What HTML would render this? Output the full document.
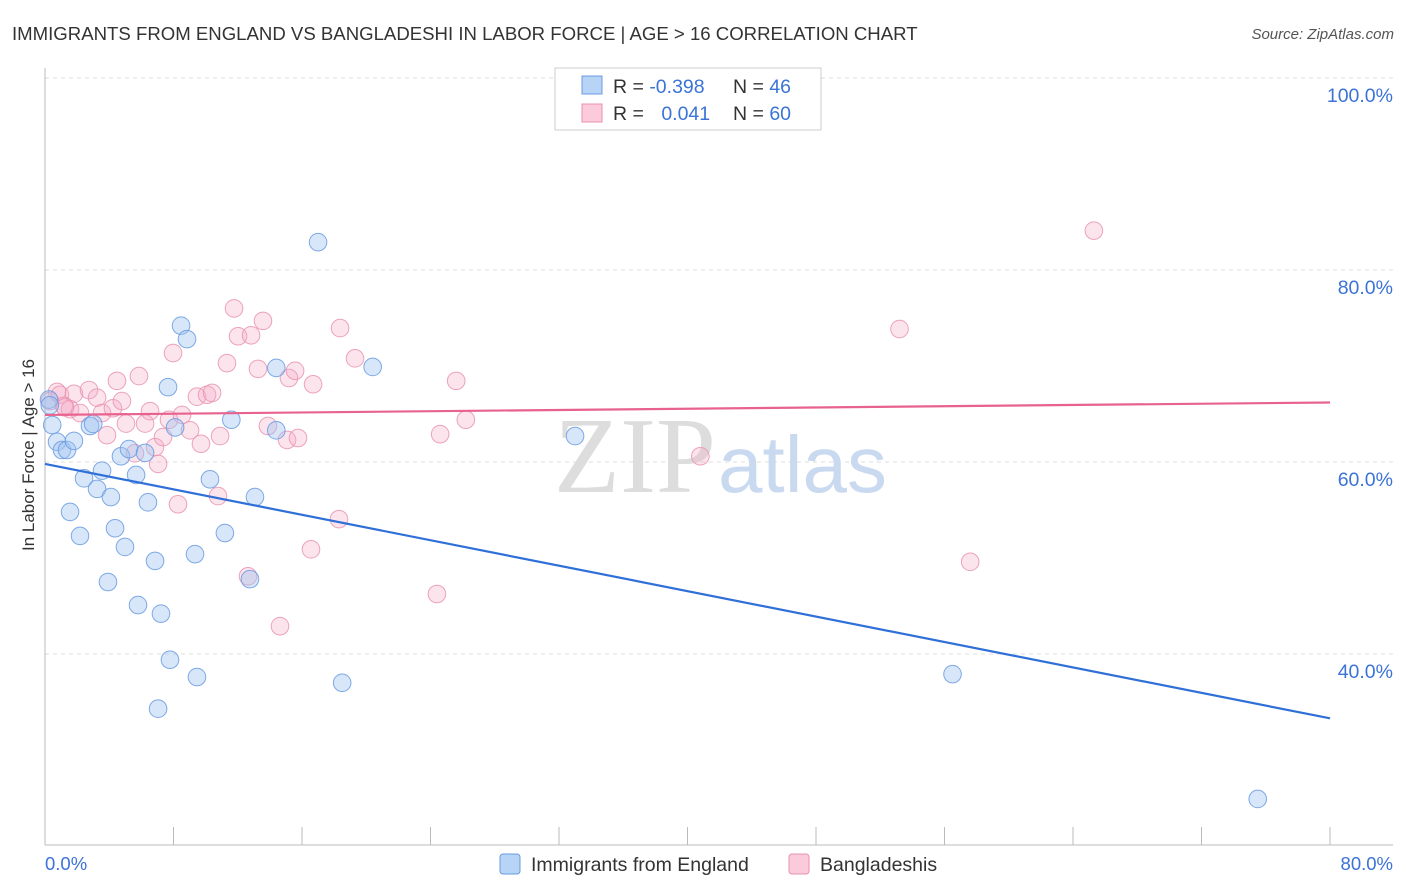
<!DOCTYPE html>
<html><head><meta charset="utf-8"><style>
body{margin:0;background:#fff;font-family:"Liberation Sans",sans-serif;}
svg{display:block}
</style></head><body>
<svg id="chart" width="1406" height="892">
<text x="12" y="40" font-size="18.6" fill="#333">IMMIGRANTS FROM ENGLAND VS BANGLADESHI IN LABOR FORCE | AGE &gt; 16 CORRELATION CHART</text>
<text x="1394" y="39" font-size="15" fill="#555" font-style="italic" text-anchor="end">Source: ZipAtlas.com</text>
<g id="grid"></g>
<g><text x="554" y="492" font-size="108" fill="#ddd" font-family="Liberation Serif,serif">ZIP</text><text x="718" y="492" font-size="80" fill="#c9daf0">atlas</text></g>
<line x1="45" y1="68" x2="45" y2="845" stroke="#bbb"/>
<line x1="45" y1="845" x2="1393" y2="845" stroke="#bbb"/>
<text transform="translate(34,455) rotate(-90)" font-size="17" fill="#333" text-anchor="middle">In Labor Force | Age &gt; 16</text>
<text x="45" y="870" font-size="18.5" fill="#3b73d6">0.0%</text>
<text x="1393" y="870" font-size="18.5" fill="#3b73d6" text-anchor="end">80.0%</text>
<g id="marks"></g>
<g>
<rect x="555" y="68" width="266" height="62" fill="#fff" stroke="#ccc"/>
<rect x="582" y="76" width="20" height="18" fill="#b7d3f6" stroke="#6a9be0"/>
<rect x="582" y="104" width="20" height="18" fill="#fbcbdb" stroke="#e890ae"/>
<text x="613" y="93" font-size="19.5" fill="#333">R = <tspan fill="#3b73d6">-0.398</tspan></text>
<text x="733" y="93" font-size="19.5" fill="#333">N = <tspan fill="#3b73d6">46</tspan></text>
<text x="613" y="120" font-size="19.5" fill="#333">R = <tspan fill="#3b73d6" dx="12">0.041</tspan></text>
<text x="733" y="120" font-size="19.5" fill="#333">N = <tspan fill="#3b73d6">60</tspan></text>
</g>
<g>
<rect x="500" y="854" width="20" height="20" rx="3" fill="#b7d3f6" stroke="#6a9be0"/>
<text x="531" y="871" font-size="19.5" fill="#333">Immigrants from England</text>
<rect x="789" y="854" width="20" height="20" rx="3" fill="#fbcbdb" stroke="#e890ae"/>
<text x="820" y="871" font-size="19.5" fill="#333">Bangladeshis</text>
</g>
</svg>
<script>
const yTicks=[40,60,80,100];
const yTickLabels=["40.0%","60.0%","80.0%","100.0%"];
const xTicks=[0,8,16,24,32,40,48,56,64,72,80];
const englandX=[17.0,8.47,8.84,7.66,14.4,20.4,11.6,14.4,8.1,2.8,3.0,0.25,0.3,0.45,0.75,1.06,1.37,1.8,3.55,2.43,3.24,4.1,4.73,5.23,5.67,6.23,6.41,10.27,13.07,1.56,4.36,2.18,4.98,6.85,9.34,11.2,3.92,5.79,7.22,12.76,7.78,9.46,7.04,18.5,33.0,56.5,75.5];
const englandY=[82.9,74.2,72.8,67.8,69.8,69.9,64.4,63.3,63.6,63.75,63.96,66.5,65.9,63.85,62.1,61.25,61.25,62.2,59.1,58.3,57.2,56.35,60.6,61.35,58.65,60.95,55.8,58.2,56.35,54.8,53.1,52.3,51.15,49.7,50.4,52.6,47.5,45.1,44.2,47.8,39.4,37.6,34.3,37.0,62.7,37.9,24.9];
const bangX=[65.3,53.2,11.77,13.57,12.02,12.83,18.37,19.3,7.97,11.33,13.26,15.19,15.57,16.69,5.85,4.48,0.75,0.93,1.8,2.74,0.31,1.18,1.56,2.18,3.24,3.55,4.23,4.79,6.54,7.72,8.53,9.46,10.09,10.4,3.86,5.04,6.23,5.6,6.85,7.35,9.03,9.71,10.9,13.88,15.07,15.75,7.04,8.28,10.77,12.64,14.63,16.56,18.3,25.6,26.2,24.6,24.4,40.8,57.6,1.25];
const bangY=[84.1,73.85,76.0,74.7,73.1,73.2,73.95,70.8,71.35,70.3,69.7,68.75,69.5,68.1,68.95,68.45,67.3,67.0,67.1,67.5,66.35,65.85,65.5,65.1,66.7,65.1,65.6,66.35,65.3,64.4,64.9,66.8,67.0,67.2,62.8,64.0,64.0,60.9,61.55,62.6,63.3,61.9,62.7,63.75,62.3,62.5,59.8,55.6,56.45,48.1,42.9,50.9,54.05,68.45,64.4,62.9,46.25,60.6,49.6,65.7];
const englandTrend=[59.8,33.3];
const bangTrend=[64.9,66.2];
const trendX=[0,80];

const NS="http://www.w3.org/2000/svg";
const xs=v=>45+v*(1285/80);
const ys=v=>462-(v-60)*9.6;
const grid=document.getElementById('grid');
const marks=document.getElementById('marks');
yTicks.forEach((t,i)=>{
  const l=document.createElementNS(NS,'line');
  
  
  l.setAttribute('x1',45);l.setAttribute('x2',1393);
  l.setAttribute('y1',ys(t));l.setAttribute('y2',ys(t));
  l.setAttribute('stroke','#ddd');l.setAttribute('stroke-dasharray','4,4');
  grid.appendChild(l);
  const tx=document.createElementNS(NS,'text');
  
  
  tx.setAttribute('x',1393);tx.setAttribute('y',ys(t)+24);
  tx.setAttribute('text-anchor','end');tx.setAttribute('font-size','19.5');tx.setAttribute('fill','#3b73d6');
  tx.textContent=yTickLabels[i];
  grid.appendChild(tx);
});
xTicks.forEach(t=>{
  const l=document.createElementNS(NS,'line');
  
  
  l.setAttribute('x1',xs(t));l.setAttribute('x2',xs(t));
  l.setAttribute('y1',827);l.setAttribute('y2',845);
  l.setAttribute('stroke','#bbb');
  grid.appendChild(l);
});
function pts(X,Y,fill,stroke,name){
  X.forEach((x,i)=>{
    const c=document.createElementNS(NS,'circle');
    
    
    c.setAttribute('cx',xs(x));c.setAttribute('cy',ys(Y[i]));c.setAttribute('r',8.8);
    c.setAttribute('fill',fill);c.setAttribute('stroke',stroke);c.setAttribute('stroke-width','1');
    marks.appendChild(c);
  });
}
pts(bangX,bangY,'rgba(246,172,198,0.32)','rgba(233,148,178,0.85)','point-bangladeshi');
pts(englandX,englandY,'rgba(160,196,240,0.42)','rgba(106,155,224,0.85)','point-england');
function trend(T,color,name){
  const l=document.createElementNS(NS,'line');
  
  
  l.setAttribute('x1',xs(trendX[0]));l.setAttribute('x2',xs(trendX[1]));
  l.setAttribute('y1',ys(T[0]));l.setAttribute('y2',ys(T[1]));
  l.setAttribute('stroke',color);l.setAttribute('stroke-width','2.2');
  marks.appendChild(l);
}
trend(englandTrend,'#2f6fd8','trend-england');
trend(bangTrend,'#e8628e','trend-bangladeshi');
</script>
</body></html>
